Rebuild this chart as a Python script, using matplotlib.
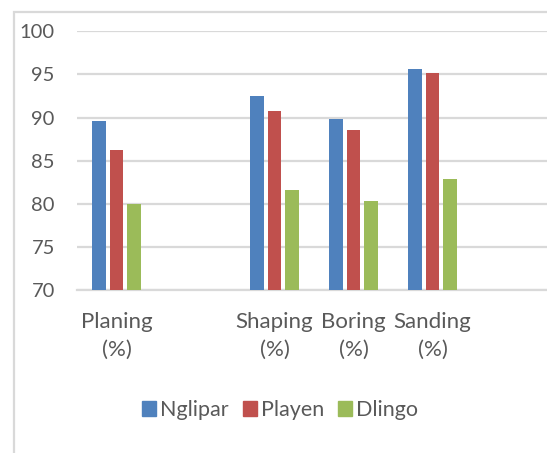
import numpy as np
import matplotlib
matplotlib.use("Agg")
import matplotlib.pyplot as plt
from matplotlib.patches import Rectangle, Patch

plt.rcParams['font.family'] = ['Lato', 'DejaVu Sans']
plt.rcParams['font.size'] = 14

# category slots (two are empty in the original chart)
slots = ['Planing\n(%)', '', 'Shaping\n(%)', 'Boring\n(%)', 'Sanding\n(%)', '']
categories = ['Planing\n(%)', 'Shaping\n(%)', 'Boring\n(%)', 'Sanding\n(%)']
series = ['Nglipar', 'Playen', 'Dlingo']
nglipar = [89.6, 92.5, 89.8, 95.6]
playen = [86.2, 90.8, 88.6, 95.2]
dlingo = [80.0, 81.6, 80.3, 82.9]
colors = ['#4F81BD', '#C0504D', '#9BBB59']
text_col = '#595959'
grid_col = '#D9D9D9'

W, H = 547, 453
fig = plt.figure(figsize=(W / 100, H / 100), dpi=100)
# axes slightly wider than figure: the right part of the chart is cut off
ax = fig.add_axes([77 / W, (H - 290) / H, 474 / W, (290 - 31.3) / H])

xpos = np.array([slots.index(c) for c in categories])
width = 0.177
step = 0.2215
for i, (vals, col) in enumerate(zip([nglipar, playen, dlingo], colors)):
    ax.bar(xpos + (i - 1) * step, np.array(vals) - 70, width, bottom=70,
           color=col, zorder=3, label=series[i])

ax.set_xlim(-0.5, len(slots) - 0.5)
ax.set_ylim(70, 100)
ax.set_yticks(np.arange(70, 101, 5))
ax.set_xticks(range(len(slots)))
ax.set_xticklabels(slots, linespacing=1.5, fontsize=16)
ax.tick_params(axis='both', length=0, colors=text_col)
ax.tick_params(axis='y', pad=16, labelsize=14.5)
ax.tick_params(axis='x', pad=16)
ax.yaxis.grid(True, color=grid_col, linewidth=1.6, zorder=0)
for s in ['top', 'right', 'left']:
    ax.spines[s].set_visible(False)
ax.spines['bottom'].set_color(grid_col)
ax.spines['bottom'].set_linewidth(1.6)

handles = [Patch(color=c) for c in colors]
fig.legend(handles, series, loc='center', bbox_to_anchor=(280 / W, (H - 410) / H),
           ncol=3, frameon=False, fontsize=15.5, labelcolor=text_col,
           handlelength=0.65, handleheight=0.65, handletextpad=0.2,
           columnspacing=0.65)

# chart area border (cut off at right and bottom)
fig.patches.append(Rectangle((14 / W, -0.1), 1.2, (H - 12) / H + 0.1,
                             transform=fig.transFigure, fill=False,
                             edgecolor=grid_col, linewidth=1.6))

fig.savefig('out.png', dpi=100)
